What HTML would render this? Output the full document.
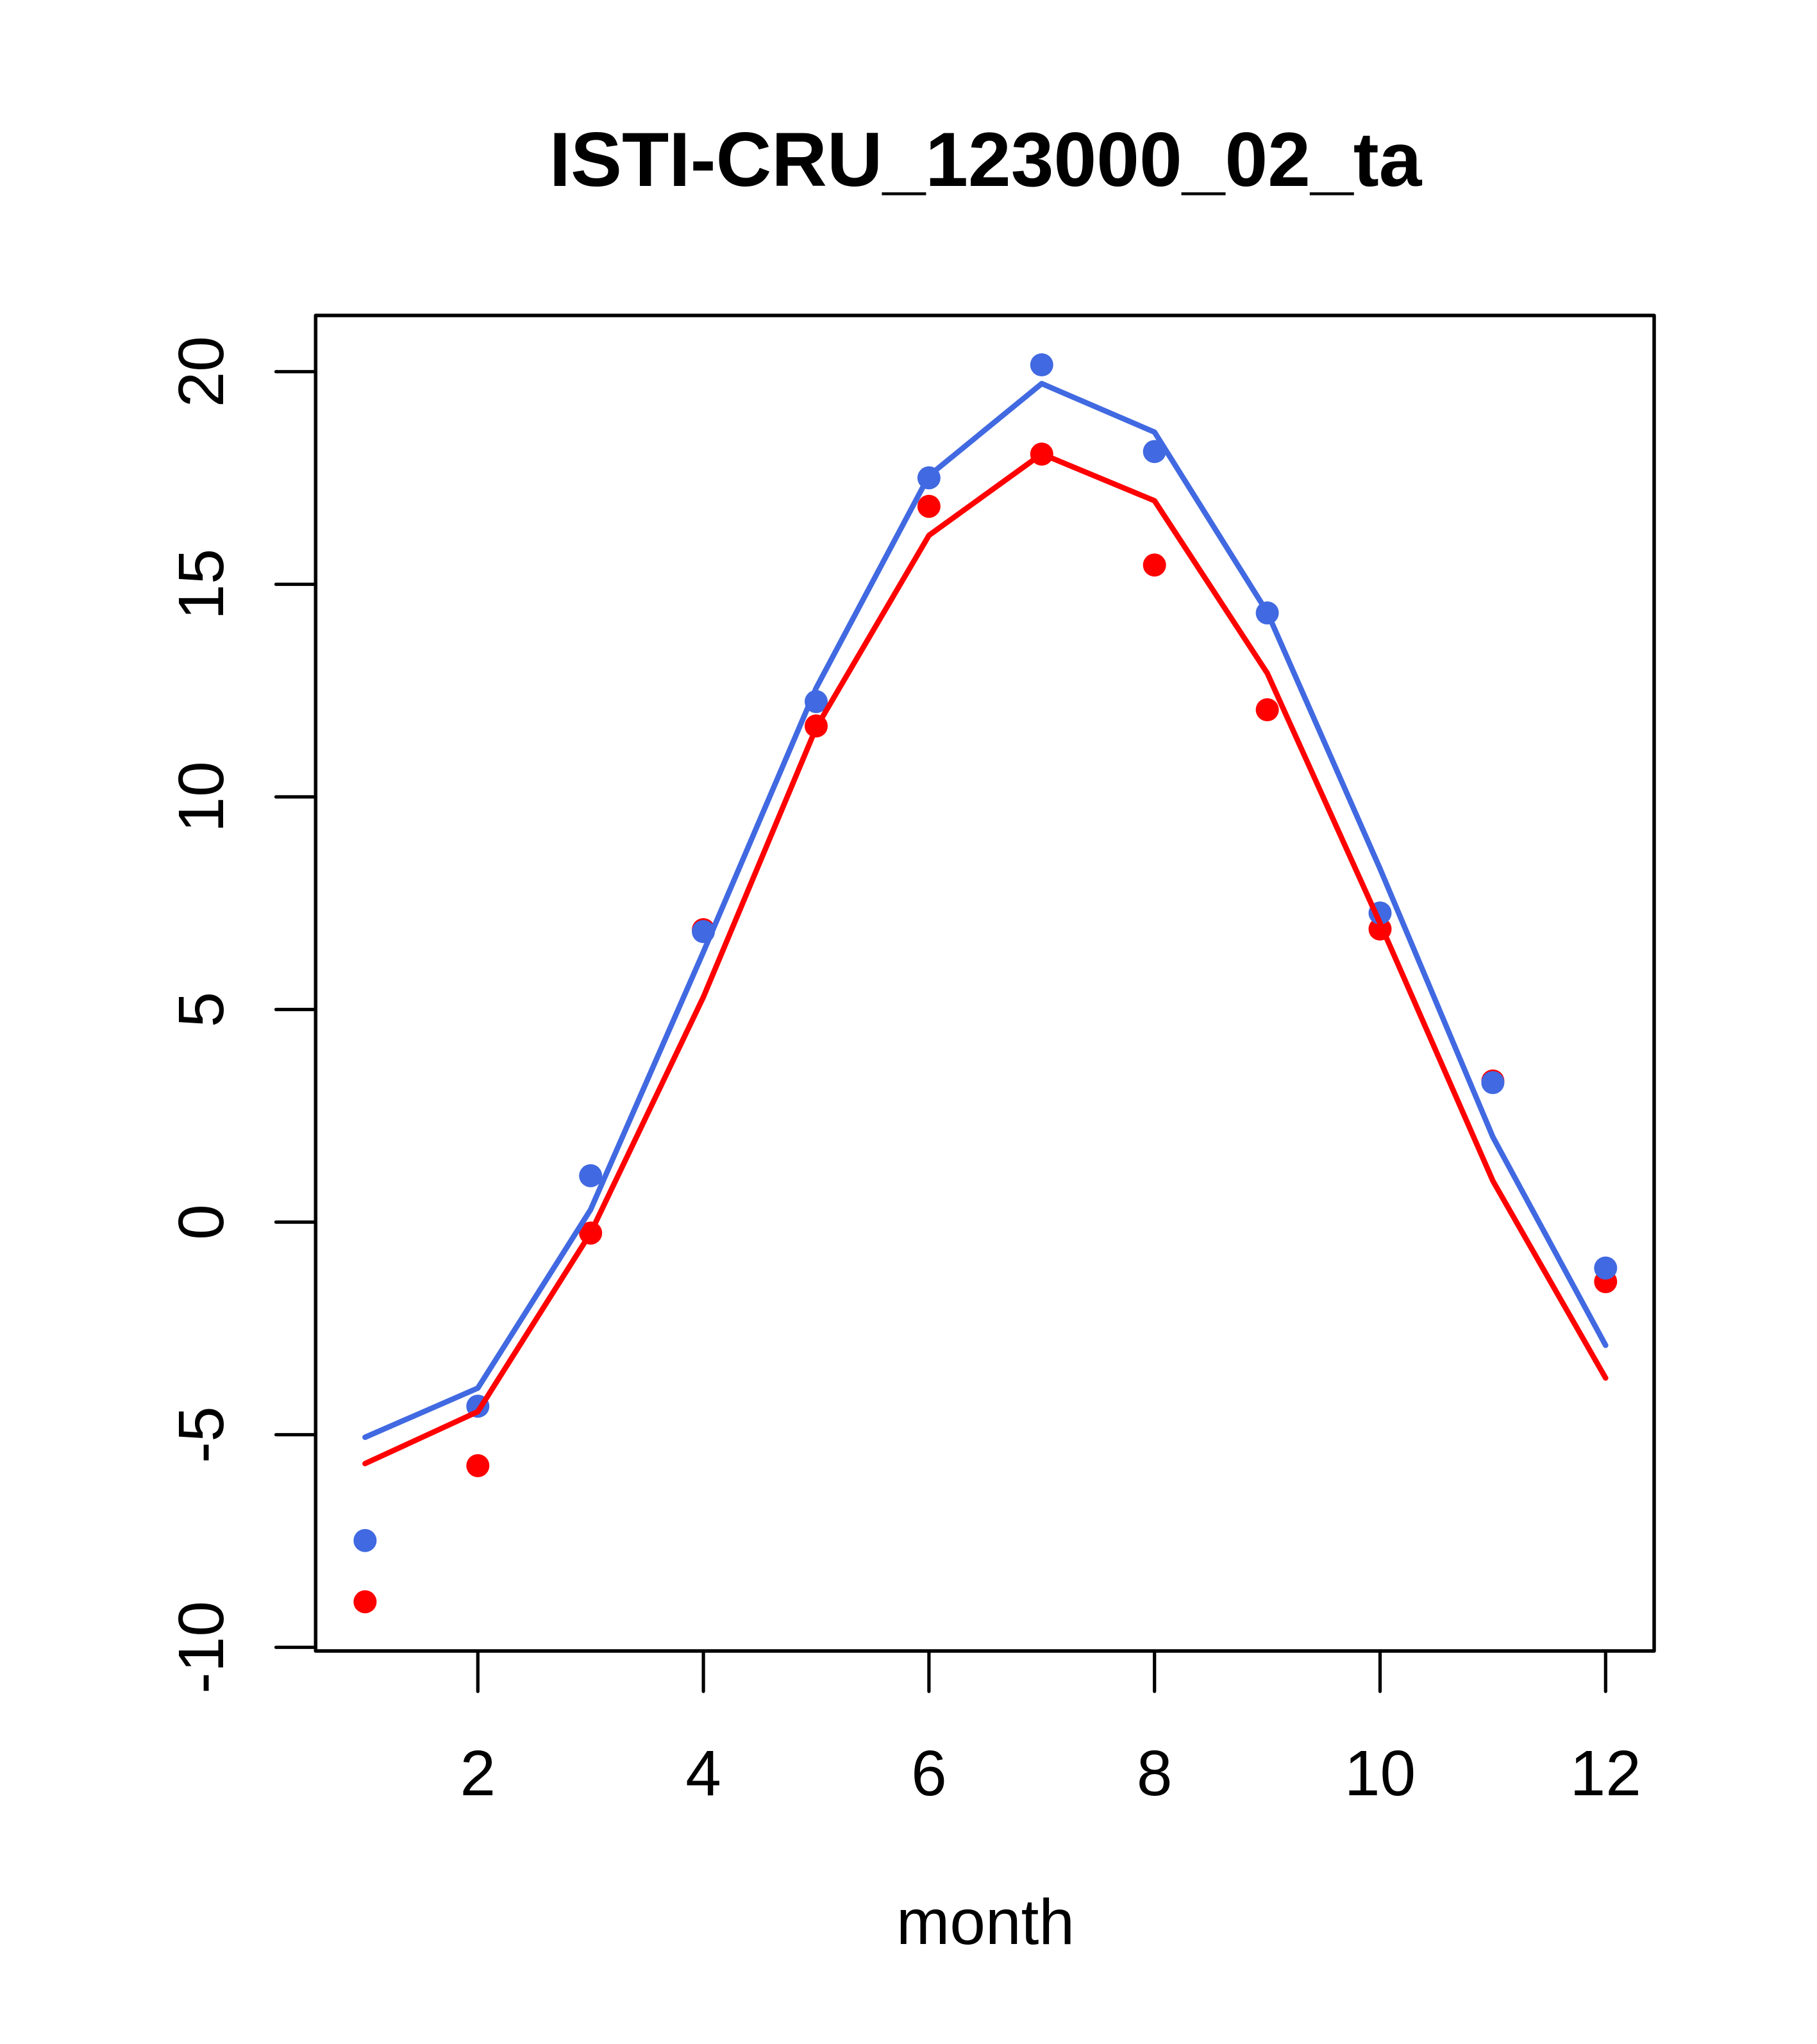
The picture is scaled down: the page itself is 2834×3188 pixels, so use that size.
<!DOCTYPE html>
<html>
<head>
<meta charset="utf-8">
<style>
  html, body { margin: 0; padding: 0; background: #ffffff; }
  body { width: 2834px; height: 3188px; overflow: hidden; }
  svg { display: block; }
  text { font-family: "Liberation Sans", Arial, sans-serif; fill: #000; }
</style>
</head>
<body>
<svg xmlns="http://www.w3.org/2000/svg" width="2834" height="3188" viewBox="0 0 2834 3188">
  <rect x="0" y="0" width="2834" height="3188" fill="#ffffff"/>

  <!-- Title -->
  <text x="1537" y="290" font-size="120" font-weight="bold" text-anchor="middle">ISTI-CRU_123000_02_ta</text>

  <!-- Plot box -->
  <rect x="492.3" y="492" width="2087.7" height="2083" fill="none" stroke="#000" stroke-width="5.5" stroke-linejoin="round"/>

  <!-- Y axis ticks -->
  <g stroke="#000" stroke-width="5.2" stroke-linecap="round">
    <line x1="430.5" y1="579.7" x2="492.3" y2="579.7"/>
    <line x1="430.5" y1="911.3" x2="492.3" y2="911.3"/>
    <line x1="430.5" y1="1242.9" x2="492.3" y2="1242.9"/>
    <line x1="430.5" y1="1574.5" x2="492.3" y2="1574.5"/>
    <line x1="430.5" y1="1906.1" x2="492.3" y2="1906.1"/>
    <line x1="430.5" y1="2237.7" x2="492.3" y2="2237.7"/>
    <line x1="430.5" y1="2569.3" x2="492.3" y2="2569.3"/>
  </g>

  <!-- Y axis labels (rotated) -->
  <g font-size="100" text-anchor="middle">
    <text transform="translate(348,579.7) rotate(-90)">20</text>
    <text transform="translate(348,911.3) rotate(-90)">15</text>
    <text transform="translate(348,1242.9) rotate(-90)">10</text>
    <text transform="translate(348,1574.5) rotate(-90)">5</text>
    <text transform="translate(348,1906.1) rotate(-90)">0</text>
    <text transform="translate(348,2237.7) rotate(-90)">-5</text>
    <text transform="translate(348,2569.3) rotate(-90)">-10</text>
  </g>

  <!-- X axis ticks -->
  <g stroke="#000" stroke-width="5.2" stroke-linecap="round">
    <line x1="745.3" y1="2575" x2="745.3" y2="2638"/>
    <line x1="1097.1" y1="2575" x2="1097.1" y2="2638"/>
    <line x1="1448.9" y1="2575" x2="1448.9" y2="2638"/>
    <line x1="1800.7" y1="2575" x2="1800.7" y2="2638"/>
    <line x1="2152.5" y1="2575" x2="2152.5" y2="2638"/>
    <line x1="2504.3" y1="2575" x2="2504.3" y2="2638"/>
  </g>

  <!-- X axis labels -->
  <g font-size="100" text-anchor="middle">
    <text x="745.3" y="2800">2</text>
    <text x="1097.1" y="2800">4</text>
    <text x="1448.9" y="2800">6</text>
    <text x="1800.7" y="2800">8</text>
    <text x="2152.5" y="2800">10</text>
    <text x="2504.3" y="2800">12</text>
  </g>

  <!-- X axis title -->
  <text x="1537" y="3032" font-size="100" text-anchor="middle">month</text>

  <!-- Red points -->
  <g fill="#FF0000">
    <circle cx="569.4" cy="2498.3" r="18"/>
    <circle cx="745.3" cy="2286" r="18"/>
    <circle cx="921.2" cy="1923.2" r="18"/>
    <circle cx="1097.1" cy="1450" r="18"/>
    <circle cx="1273.0" cy="1132.3" r="18"/>
    <circle cx="1448.9" cy="789.7" r="18"/>
    <circle cx="1624.8" cy="708.3" r="18"/>
    <circle cx="1800.7" cy="881.3" r="18"/>
    <circle cx="1976.6" cy="1107" r="18"/>
    <circle cx="2152.5" cy="1449" r="18"/>
    <circle cx="2328.4" cy="1686" r="18"/>
    <circle cx="2504.3" cy="1999" r="18"/>
  </g>

  <!-- Blue points -->
  <g fill="#4169E1">
    <circle cx="569.4" cy="2402.7" r="18"/>
    <circle cx="745.3" cy="2193.3" r="18"/>
    <circle cx="921.2" cy="1833.8" r="18"/>
    <circle cx="1097.1" cy="1453" r="18"/>
    <circle cx="1273.0" cy="1094.3" r="18"/>
    <circle cx="1448.9" cy="745.3" r="18"/>
    <circle cx="1624.8" cy="569" r="18"/>
    <circle cx="1800.7" cy="704.3" r="18"/>
    <circle cx="1976.6" cy="956" r="18"/>
    <circle cx="2152.5" cy="1424" r="18"/>
    <circle cx="2328.4" cy="1688.5" r="18"/>
    <circle cx="2504.3" cy="1977.7" r="18"/>
  </g>

  <!-- Red line -->
  <polyline fill="none" stroke="#FF0000" stroke-width="8.5" stroke-linecap="round" stroke-linejoin="round"
    points="569.4,2282.7 745.3,2201.7 921.2,1923 1097.1,1555 1273.0,1135 1448.9,835 1624.8,708 1800.7,781 1976.6,1050 2152.5,1440 2328.4,1841.7 2504.3,2149.3"/>

  <!-- Blue line -->
  <polyline fill="none" stroke="#4169E1" stroke-width="8.5" stroke-linecap="round" stroke-linejoin="round"
    points="569.4,2241.7 745.3,2165 921.2,1886.6 1097.1,1484.7 1273.0,1073 1448.9,742 1624.8,598.3 1800.7,674 1976.6,955 2152.5,1355 2328.4,1773.3 2504.3,2098.3"/>
</svg>
</body>
</html>
